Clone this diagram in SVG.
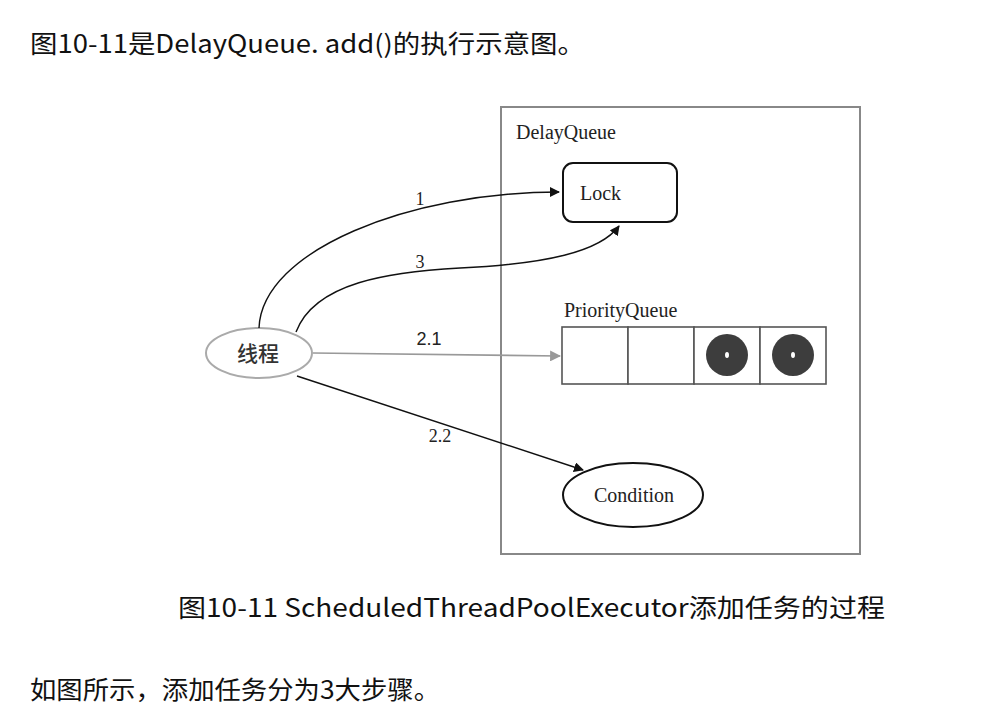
<svg xmlns="http://www.w3.org/2000/svg" width="1005" height="712" viewBox="0 0 1005 712">
<style>
.body{font-family:"Noto Sans CJK SC","Microsoft YaHei",sans-serif;font-size:25px;fill:#111}
.serif{font-family:"Liberation Serif","Times New Roman",serif;font-size:20px;fill:#222}
.lbl{font-family:"Liberation Serif","Times New Roman",serif;font-size:18px;fill:#222}
.sans{font-family:"Liberation Sans",sans-serif;font-size:18px;fill:#222}
.edge{fill:none;stroke:#111;stroke-width:1.4}
.gedge{fill:none;stroke:#999;stroke-width:1.6}
.cell{fill:#fff;stroke:#555;stroke-width:1.6}
</style>
<defs>
<marker id="ah" viewBox="0 0 10 10" refX="9" refY="5" markerWidth="10" markerHeight="10" markerUnits="userSpaceOnUse" orient="auto">
<path d="M0,0 L10,5 L0,10 z" fill="#111"/>
</marker>
<marker id="ahg" viewBox="0 0 10 10" refX="9" refY="5" markerWidth="11" markerHeight="11" markerUnits="userSpaceOnUse" orient="auto">
<path d="M0,0 L10,5 L0,10 z" fill="#999"/>
</marker>
</defs>
<rect width="1005" height="712" fill="#fff"/>
<text class="body" x="30" y="53" textLength="555" lengthAdjust="spacingAndGlyphs">图10-11是DelayQueue. add()的执行示意图。</text>

<g id="delayqueue">
<rect x="501" y="107" width="359" height="447" fill="none" stroke="#888" stroke-width="2"/>
<text class="serif" x="516" y="139">DelayQueue</text>
</g>
<g id="lock">
<rect x="563" y="163" width="114" height="59" rx="10" fill="#fff" stroke="#111" stroke-width="2"/>
<text class="serif" x="580" y="200">Lock</text>
</g>
<g id="priorityqueue">
<text class="serif" x="564" y="317">PriorityQueue</text>
<rect class="cell" x="562" y="327" width="66" height="57"/>
<rect class="cell" x="628" y="327" width="66" height="57"/>
<rect class="cell" x="694" y="327" width="66" height="57"/>
<rect class="cell" x="760" y="327" width="66" height="57"/>
<circle cx="727" cy="355" r="21" fill="#3d3d3d"/>
<ellipse cx="727" cy="355" rx="2" ry="3" fill="#fff"/>
<circle cx="793" cy="355" r="21" fill="#3d3d3d"/>
<ellipse cx="793" cy="355" rx="2" ry="3" fill="#fff"/>
</g>
<g id="condition">
<ellipse cx="633" cy="495" rx="70" ry="32" fill="#fff" stroke="#111" stroke-width="2"/>
<text class="serif" x="634" y="502" text-anchor="middle">Condition</text>
</g>
<g id="thread">
<ellipse cx="259" cy="353" rx="53" ry="25" fill="#fff" stroke="#aaa" stroke-width="2"/>
<text x="258" y="361" text-anchor="middle" style="font-family:'Noto Sans CJK SC',sans-serif;font-size:21px;font-weight:500;fill:#333">线程</text>
</g>

<g id="connectors">
<path class="edge" d="M259,328 C262,250 410,192 559,192" marker-end="url(#ah)"/>
<path class="edge" d="M296,332 C315,282 390,272 460,268 C545,264 600,252 619,226" marker-end="url(#ah)"/>
<path class="gedge" d="M313,353 L560,356" marker-end="url(#ahg)"/>
<path class="edge" d="M297,376 L583,470" marker-end="url(#ah)"/>
<text class="lbl" x="420" y="205" text-anchor="middle">1</text>
<text class="lbl" x="420" y="268" text-anchor="middle">3</text>
<text class="sans" x="429" y="345" text-anchor="middle">2.1</text>
<text class="lbl" x="440" y="442" text-anchor="middle">2.2</text>
</g>

<text class="body" x="178" y="617" textLength="707" lengthAdjust="spacingAndGlyphs">图10-11 ScheduledThreadPoolExecutor添加任务的过程</text>
<text class="body" x="30" y="699" textLength="410" lengthAdjust="spacingAndGlyphs">如图所示，添加任务分为3大步骤。</text>
</svg>
